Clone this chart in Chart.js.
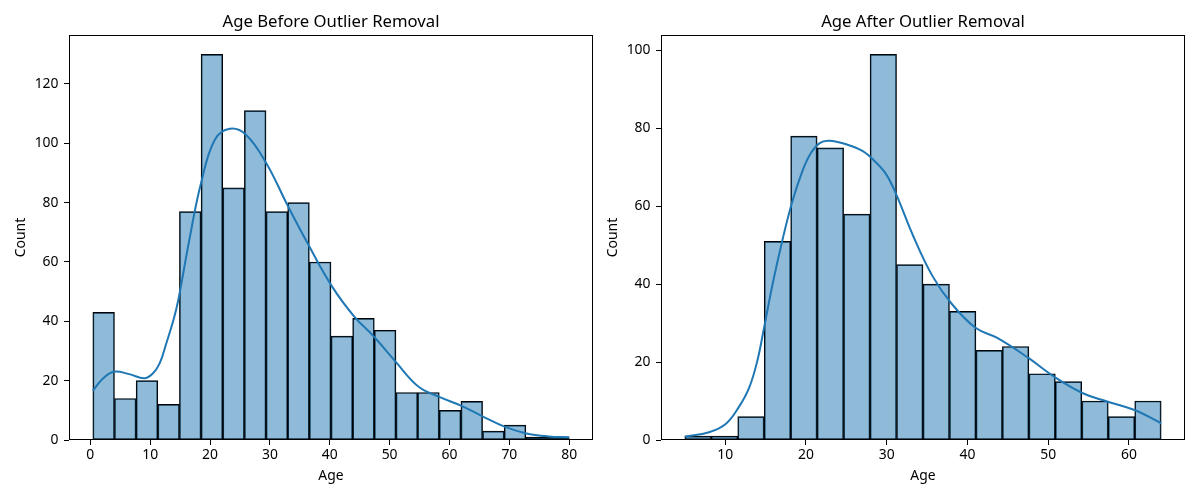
<!DOCTYPE html>
<html>
<head>
<meta charset="utf-8">
<title>Age Before / After Outlier Removal</title>
<script src="https://cdn.jsdelivr.net/npm/chart.js@4.4.1/dist/chart.umd.min.js"></script>
<style>
    html, body { margin: 0; padding: 0; background: #fff; }
    #wrap { position: relative; width: 1200px; height: 500px; }
    .panel { position: absolute; top: 0; width: 600px; height: 500px; }
    #left { left: 0; }
    #right { left: 600px; }
</style>
</head>
<body>
<div id="wrap">
    <div class="panel" id="left"><canvas id="beforeChart"></canvas></div>
    <div class="panel" id="right"><canvas id="afterChart"></canvas></div>
</div>
<script>
// Histogram: equal-width bins between the min and max age
const beforeRange = [0.42, 80];
const beforeCounts = [43, 14, 20, 12, 77, 130, 85, 111, 77, 80, 60, 35, 41, 37, 16, 16, 10, 13, 3, 5, 1, 1];
// KDE curve (age, count scale)
const beforeKdeX = [0.42, 2, 3.9, 6.5, 9.0, 10.4, 11.6, 12.7, 13.9, 14.7, 16.5, 18.5, 20.8, 23.3, 26.0, 29.4, 32.9, 36.3, 40.4, 44.1, 47.4, 51.0, 54.8, 58.2, 62.0, 65.6, 69.2, 72.7, 76.5, 80];
const beforeKdeY = [16.6, 20.5, 23.0, 22.2, 20.8, 22.3, 25.9, 32.6, 40.5, 47.2, 67, 86.6, 101.2, 104.9, 102.9, 93.3, 79.3, 66.3, 51.7, 41.6, 34.8, 26.4, 18.0, 14.6, 11.5, 7.9, 4.5, 2.3, 1.2, 0.9];

const afterRange = [5, 64];
const afterCounts = [1, 1, 6, 51, 78, 75, 58, 99, 45, 40, 33, 23, 24, 17, 15, 10, 6, 10];
const afterKdeX = [5.0, 8.0, 10.1, 11.7, 13.0, 14.0, 14.84, 15.9, 17.1, 18.15, 19.2, 20.4, 21.7, 22.9, 25.0, 27.0, 28.7, 30.0, 31.2, 33.3, 35.7, 38.0, 41.0, 43.7, 47.6, 50.7, 54.3, 57.3, 60.7, 64.0];
const afterKdeY = [0.9, 2.0, 4.2, 8.5, 13.6, 20.5, 29.1, 40.3, 51.4, 60, 66.9, 72.9, 76.2, 76.8, 75.9, 74.2, 71.2, 68.0, 63.0, 52.3, 42, 35.1, 28.8, 26.2, 21, 16.3, 12.0, 9.9, 7.7, 4.3];

const xTickStep = 10;
const yTickStep = 20;

Chart.defaults.font.family = '"Noto Sans", "DejaVu Sans", sans-serif';
Chart.defaults.color = '#000';

const BAR_FILL = 'rgba(31, 119, 180, 0.5)';
const LINE_COLOR = '#1f77b4';

// box round the plot area, like matplotlib spines
const framePlugin = {
    id: 'frame',
    afterDraw(chart) {
        const { ctx, chartArea: a } = chart;
        const l = Math.round(a.left) + 0.5, t = Math.round(a.top) + 0.5;
        const r = Math.round(a.right) - 0.5, b = Math.round(a.bottom) - 0.5;
        ctx.save();
        ctx.strokeStyle = '#000';
        ctx.lineWidth = 1;
        ctx.strokeRect(l, t, r - l, b - t);
        ctx.restore();
    }
};

function histogramBars(range, counts) {
    const width = (range[1] - range[0]) / counts.length;
    return counts.map((c, i) => ({ x: range[0] + width * (i + 0.5), y: c }));
}

function zip(xs, ys) {
    return xs.map((x, i) => ({ x: x, y: ys[i] }));
}

function makeChart(canvasId, opts) {
    const span = opts.range[1] - opts.range[0];
    const yMax = Math.max(...opts.counts) * 1.05;

    return new Chart(document.getElementById(canvasId), {
        type: 'bar',
        data: {
            datasets: [
                {
                    type: 'line',
                    data: zip(opts.kdeX, opts.kdeY),
                    borderColor: LINE_COLOR,
                    borderWidth: 2,
                    pointRadius: 0,
                    tension: 0.4,
                    fill: false,
                    order: 0
                },
                {
                    type: 'bar',
                    data: histogramBars(opts.range, opts.counts),
                    backgroundColor: BAR_FILL,
                    borderColor: '#000',
                    borderWidth: 1,
                    borderSkipped: false,
                    barPercentage: 1,
                    categoryPercentage: 1,
                    order: 1
                }
            ]
        },
        options: {
            responsive: true,
            maintainAspectRatio: false,
            animation: false,
            devicePixelRatio: 1,
            layout: { padding: { left: 0, right: opts.padRight, top: 0, bottom: 0 } },
            plugins: {
                legend: { display: false },
                tooltip: { enabled: false },
                title: {
                    display: true,
                    text: opts.title,
                    fullSize: false,
                    font: { size: 16.7, weight: 'normal' },
                    padding: { top: 12.4, bottom: 2.6 }
                }
            },
            scales: {
                x: {
                    type: 'linear',
                    offset: false,
                    min: opts.range[0] - span * 0.05,
                    max: opts.range[1] + span * 0.05,
                    grid: { display: true, drawOnChartArea: false, drawTicks: true, tickLength: 5, color: '#000', offset: false },
                    border: { display: false },
                    ticks: { stepSize: xTickStep, includeBounds: false, padding: 2, font: { size: 13.9 } },
                    title: { display: true, text: 'Age', font: { size: 13.9 }, padding: { top: 0, bottom: 15.6 } },
                    afterFit(scale) { scale.height = 60; }
                },
                y: {
                    min: 0,
                    max: yMax,
                    grid: { display: true, drawOnChartArea: false, drawTicks: true, tickLength: 5, color: '#000' },
                    border: { display: false },
                    ticks: { stepSize: yTickStep, includeBounds: false, padding: 5.5, font: { size: 13.9 } },
                    title: { display: true, text: 'Count', font: { size: 13.9 }, padding: { top: opts.yTitlePad, bottom: 0 } },
                    afterFit(scale) { scale.width = opts.yAxisWidth; }
                }
            }
        },
        plugins: [framePlugin]
    });
}

document.addEventListener('DOMContentLoaded', () => {
    makeChart('beforeChart', {
        title: 'Age Before Outlier Removal',
        range: beforeRange, counts: beforeCounts,
        kdeX: beforeKdeX, kdeY: beforeKdeY,
        yAxisWidth: 69, yTitlePad: 13, padRight: 7
    });
    makeChart('afterChart', {
        title: 'Age After Outlier Removal',
        range: afterRange, counts: afterCounts,
        kdeX: afterKdeX, kdeY: afterKdeY,
        yAxisWidth: 61, yTitlePad: 5, padRight: 15
    });
});
</script>
</body>
</html>
